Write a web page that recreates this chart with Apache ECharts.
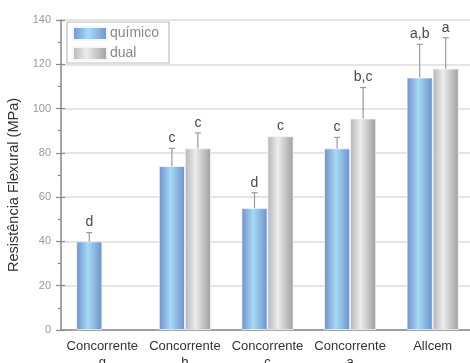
<!DOCTYPE html>
<html>
<head>
<meta charset="utf-8">
<script src="https://cdn.jsdelivr.net/npm/echarts@6/dist/echarts.min.js"></script>
<style>
  html, body { margin: 0; padding: 0; background: #fff; }
  #chart { width: 470px; height: 363px; }
</style>
</head>
<body>
<div id="chart"></div>
<script>
// Flexural strength by product, chemical vs dual cure
const categories = ['Concorrente\ng', 'Concorrente\nb', 'Concorrente\nc', 'Concorrente\na', 'Allcem'];
const quimico = [40, 74, 55, 82, 114];
const dual = [null, 82, 87.5, 95.5, 118];
const quimicoErr = [4, 8, 7, 5, 15];
const dualErr = [null, 7, 0, 14, 14];
const quimicoLetters = ['d', 'c', 'd', 'c', 'a,b'];
const dualLetters = ['', 'c', 'c', 'b,c', 'a'];
const yTicks = [0, 20, 40, 60, 80, 100, 120, 140];

const FONT = '"Liberation Sans", Arial, sans-serif';
const BAR_W = 26;

const blueFill = new echarts.graphic.LinearGradient(0, 0, 1, 0, [
  { offset: 0, color: '#6e8fcc' },
  { offset: 0.45, color: '#a5dbf3' },
  { offset: 1, color: '#6e8fcc' }
]);
const grayFill = new echarts.graphic.LinearGradient(0, 0, 1, 0, [
  { offset: 0, color: '#b4b4b4' },
  { offset: 0.4, color: '#ececec' },
  { offset: 1, color: '#9e9e9e' }
]);

function errData(values, errs) {
  const out = [];
  values.forEach((v, i) => {
    if (v !== null) out.push([i, v, v + errs[i]]);
  });
  return out;
}

function errRenderer(offset, letters) {
  return function (params, api) {
    const idx = api.value(0);
    const base = api.coord([idx, api.value(1)]);
    const top = api.coord([idx, api.value(2)]);
    const x = base[0] + offset;
    const children = [];
    if (api.value(2) > api.value(1)) {
      children.push({
        type: 'line',
        shape: { x1: x, y1: base[1], x2: x, y2: top[1] },
        style: { stroke: '#999', lineWidth: 1.2 }
      });
      children.push({
        type: 'line',
        shape: { x1: x - 3, y1: top[1], x2: x + 3, y2: top[1] },
        style: { stroke: '#999', lineWidth: 1.2 }
      });
    }
    children.push({
      type: 'text',
      style: {
        text: letters[idx],
        x: x,
        y: top[1] - 10,
        textAlign: 'center',
        textVerticalAlign: 'middle',
        font: '14px ' + FONT,
        fill: '#4a4a4a'
      }
    });
    return { type: 'group', children: children };
  };
}

const chart = echarts.init(document.getElementById('chart'), null, { renderer: 'canvas' });
chart.setOption({
  animation: false,
  backgroundColor: '#fff',
  grid: { left: 61, right: -4, top: 20, bottom: 33, outerBoundsMode: 'none', containLabel: false },
  legend: {
    left: 67,
    top: 22,
    orient: 'vertical',
    data: ['químico', 'dual'],
    icon: 'rect',
    itemWidth: 34,
    itemHeight: 13,
    itemGap: 5,
    padding: [4, 10, 2, 5],
    backgroundColor: '#fff',
    borderColor: '#bbb',
    borderWidth: 1.2,
    borderRadius: 0,
    textStyle: { fontFamily: FONT, fontSize: 14, lineHeight: 13, color: '#888', padding: [0, 0, 0, -2] }
  },
  xAxis: {
    type: 'category',
    data: categories,
    axisLine: { lineStyle: { color: '#888', width: 1.5 } },
    axisTick: { alignWithLabel: true, length: 5, lineStyle: { color: '#888', width: 1.5 } },
    axisLabel: { fontFamily: FONT, fontSize: 13, color: '#333', lineHeight: 16, margin: 8, interval: 0 }
  },
  yAxis: [
    {
      type: 'value',
      min: 0,
      max: 140,
      interval: 20,
      name: 'Resistência Flexural (MPa)',
      nameLocation: 'middle',
      nameGap: 38,
      nameTextStyle: { fontFamily: FONT, fontSize: 14.5, color: '#333', padding: [0, 20, 0, 0] },
      axisLine: { show: true, lineStyle: { color: '#888', width: 1.5 } },
      axisTick: { show: true, length: 5, lineStyle: { color: '#888', width: 1.2 } },
      minorTick: { show: true, splitNumber: 2, length: 3, lineStyle: { color: '#888', width: 1.2 } },
      axisLabel: {
        fontFamily: FONT, fontSize: 11, color: '#999', margin: 10,
        formatter: v => (yTicks.indexOf(v) >= 0 ? String(v) : '')
      },
      splitLine: { show: true, lineStyle: { color: '#ddd', width: 1.5 } }
    },
    {
      type: 'value',
      min: 0,
      max: 140,
      interval: 20,
      position: 'left',
      axisLine: { show: false },
      axisTick: { show: true, inside: true, length: 4, lineStyle: { color: '#888', width: 1.2 } },
      minorTick: { show: false },
      axisLabel: { show: false },
      splitLine: { show: false }
    }
  ],
  series: [
    {
      name: 'químico',
      type: 'bar',
      data: quimico,
      barWidth: BAR_W,
      barGap: '0%',
      itemStyle: { color: blueFill, borderColor: '#f4f6fb', borderWidth: 0.8 }
    },
    {
      name: 'dual',
      type: 'bar',
      data: dual,
      barWidth: BAR_W,
      barGap: '0%',
      itemStyle: { color: grayFill, borderColor: '#f4f6fb', borderWidth: 0.8 }
    },
    {
      type: 'custom',
      data: errData(quimico, quimicoErr),
      encode: { x: 0, y: [1, 2] },
      renderItem: errRenderer(-BAR_W / 2, quimicoLetters),
      clip: false,
      z: 5,
      silent: true
    },
    {
      type: 'custom',
      data: errData(dual, dualErr),
      encode: { x: 0, y: [1, 2] },
      renderItem: errRenderer(BAR_W / 2, dualLetters),
      clip: false,
      z: 5,
      silent: true
    }
  ]
});
</script>
</body>
</html>
